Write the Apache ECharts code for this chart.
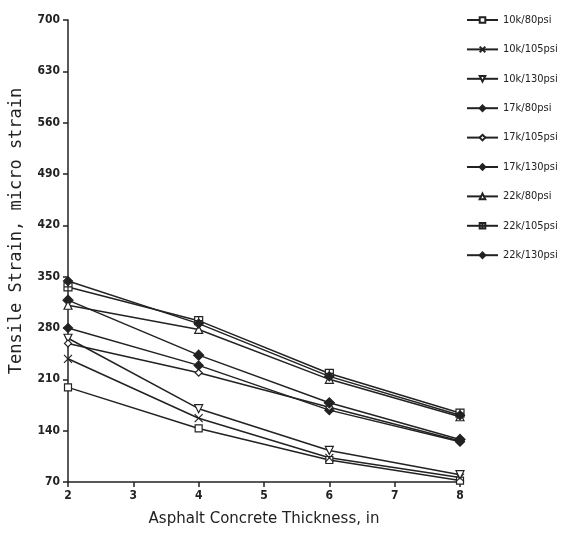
<!DOCTYPE html>
<html>
<head>
<meta charset="utf-8">
<script src="https://cdn.jsdelivr.net/npm/echarts@6/dist/echarts.min.js"></script>
<style>
  html, body { margin: 0; padding: 0; background: #fff; }
  #chart_box { width: 579px; height: 537px; }
</style>
</head>
<body>
<div id="chart_box"></div>
<script>
// thickness (in) on x axis
const thickness = [2, 4, 6, 8];
// series names, as in the legend
const seriesNames = ['10k/80psi', '10k/105psi', '10k/130psi', '17k/80psi', '17k/105psi',
  '17k/130psi', '22k/80psi', '22k/105psi', '22k/130psi'];
// tensile strain, micro strain
const s10k80 = [199, 143, 100, 72];
const s10k105 = [238, 157, 103, 76];
const s10k130 = [266, 170, 113, 80];
const s17k80 = [280, 229, 168, 125];
const s17k105 = [259, 219, 172, 126];
const s17k130 = [318, 243, 178, 128];
const s22k80 = [311, 278, 210, 159];
const s22k105 = [336, 290, 218, 164];
const s22k130 = [344, 286, 214, 161];
const yTicks = [70, 140, 210, 280, 350, 420, 490, 560, 630, 700];

const ink = '#222';
const font = "'DejaVu Sans Condensed', 'DejaVu Sans', sans-serif";
const values = [s10k80, s10k105, s10k130, s17k80, s17k105, s17k130, s22k80, s22k105, s22k130];
// marker for each series: [symbol, size, filled, rotate]
const markers = [
  ['rect', 7, false, 0],
  ['path://M0,0L10,10M10,0L0,10', 8, false, 0],
  ['triangle', 8, false, 180],
  ['diamond', 9, true, 0],
  ['diamond', 7, false, 0],
  ['path://M5,0L9,6L5,12L1,6Z', 10, true, 0],
  ['triangle', 8, false, 0],
  ['path://M0,0H10V10H0ZM5,0V10M0,5H10', 8, false, 0],
  ['diamond', 9, true, 0]
];

let seriesList = [];
for (let i = 0; i < seriesNames.length; i++) {
  seriesList.push({
    name: seriesNames[i],
    type: 'line',
    data: thickness.map((t, k) => [t, values[i][k]]),
    symbol: markers[i][0],
    symbolSize: markers[i][1],
    symbolRotate: markers[i][3],
    showAllSymbol: true,
    lineStyle: { color: ink, width: 1.5 },
    itemStyle: {
      color: markers[i][2] ? ink : '#fff',
      borderColor: ink,
      borderWidth: 1.2
    },
    emphasis: { disabled: true }
  });
}

const myEcharts = echarts.init(document.getElementById('chart_box'));
myEcharts.setOption({
  animation: false,
  textStyle: { fontFamily: font, color: ink },
  legend: {
    orient: 'vertical',
    left: 466,
    top: 13,
    padding: 0,
    itemWidth: 31,
    itemHeight: 7,
    itemGap: 15.4,
    itemTextGap: 6,
    textStyle: { fontSize: 11, lineHeight: 14, color: ink, fontFamily: font },
    data: seriesNames
  },
  grid: { left: 68, right: 119, top: 20, bottom: 55, containLabel: false },
  xAxis: {
    type: 'value',
    min: 2, max: 8, interval: 1,
    name: 'Asphalt Concrete Thickness, in',
    nameLocation: 'middle',
    nameGap: 30,
    nameTextStyle: { fontSize: 15, color: ink, fontFamily: "'DejaVu Sans', sans-serif" },
    axisLine: { show: true, lineStyle: { color: ink, width: 1.5 } },
    axisTick: { show: true, length: 5, lineStyle: { color: ink, width: 1.5 } },
    axisLabel: { fontSize: 12, color: ink, margin: 8, fontWeight: 'bold' },
    splitLine: { show: false }
  },
  yAxis: {
    type: 'value',
    min: yTicks[0], max: yTicks[yTicks.length - 1], interval: 70,
    axisLine: { show: true, lineStyle: { color: ink, width: 1.5 } },
    axisTick: { show: true, length: 5, lineStyle: { color: ink, width: 1.5 } },
    axisLabel: { fontSize: 12, color: ink, margin: 8, fontWeight: 'bold' },
    splitLine: { show: false }
  },
  graphic: [{
    type: 'text',
    x: 17, y: 231,
    rotation: Math.PI / 2,
    style: {
      text: 'Tensile Strain, micro strain',
      font: "17px 'DejaVu Sans Mono', monospace",
      fill: ink,
      align: 'center',
      verticalAlign: 'middle'
    }
  }],
  series: seriesList
});
</script>
</body>
</html>
